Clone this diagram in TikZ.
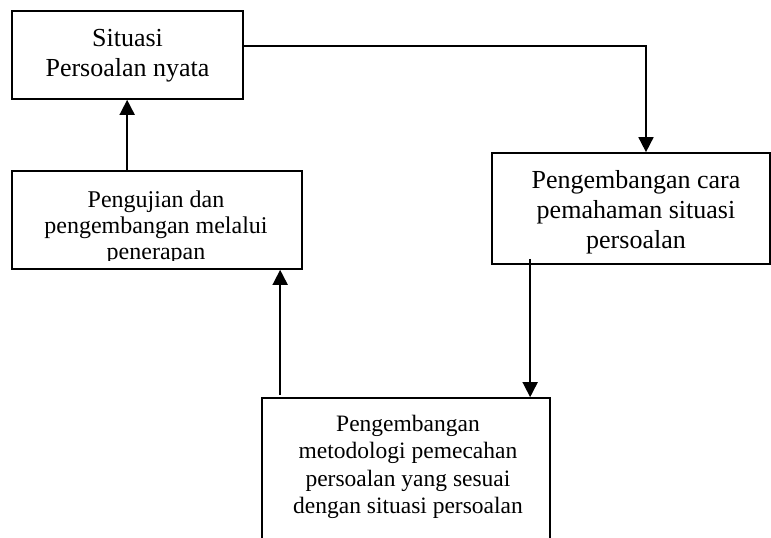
\documentclass[tikz,border=0pt]{standalone}
\usepackage{fontspec}
\setmainfont{Liberation Serif}
\usetikzlibrary{arrows.meta}
\begin{document}
\begin{tikzpicture}[x=1pt,y=-1pt,
  box/.style={draw, rectangle, line width=1.7pt, inner sep=0pt},
  txtA/.style={font=\fontsize{26}{30}\selectfont, align=center, inner sep=0pt},
  txtB/.style={font=\fontsize{24}{26}\selectfont, align=center, inner sep=0pt},
  txtC/.style={font=\fontsize{23.5}{27.3}\selectfont, align=center, inner sep=0pt},
  arr/.style={line width=1.7pt, -{Triangle[width=15pt,length=15pt]}}]
\clip (0,0) rectangle (771,538);
\fill[white] (0,0) rectangle (771,538);
% boxes
\node[box, minimum width=231pt, minimum height=88pt] (b1) at (127.5,55) {};
\node[box, minimum width=290pt, minimum height=98pt] (b2) at (157,220) {};
\node[box, minimum width=278pt, minimum height=111pt] (b3) at (631,208.5) {};
\node[box, minimum width=288pt, minimum height=202pt] (b4) at (406,499) {};
% texts
\node[txtA, anchor=north] (t1) at (127.5,29.2) {Situasi\\Persoalan nyata};
\begin{scope}
\clip (12,171) rectangle (302,260);
\node[txtB, anchor=north] (t2) at (156,190.5) {Pengujian dan\\pengembangan melalui\\penerapan};
\end{scope}
\node[txtA, anchor=north] (t3) at (636,170.2) {Pengembangan cara\\pemahaman situasi\\persoalan};
\node[txtC, anchor=north] (t4) at (408,415) {Pengembangan\\metodologi pemecahan\\persoalan yang sesuai\\dengan situasi persoalan};
% connectors
\draw[arr] ([yshift=9pt]b1.east) -| ([xshift=15pt]b3.north);
\draw[arr] ([xshift=39pt,yshift=6pt]b3.south west) -- ([xshift=269pt]b4.north west);
\draw[arr] ([xshift=19pt,yshift=2pt]b4.north west) -- ([xshift=269pt]b2.south west);
\draw[arr] ([xshift=116pt]b2.north west) -- ([xshift=116pt]b1.south west);
\end{tikzpicture}
\end{document}
